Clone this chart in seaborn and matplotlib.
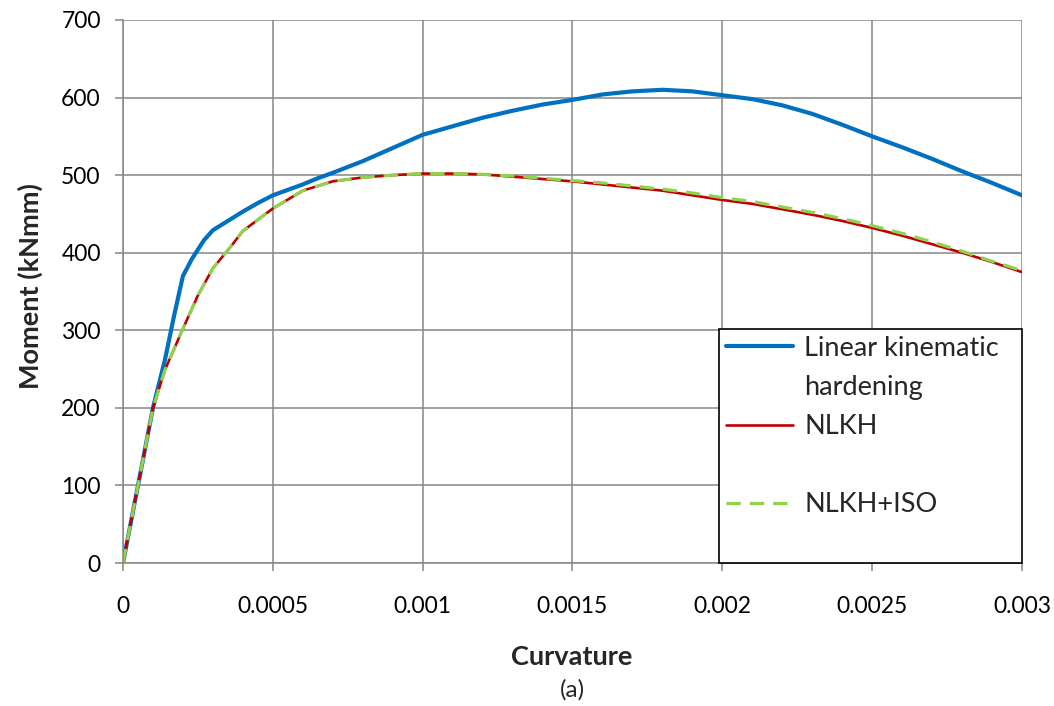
import numpy as np
import pandas as pd
import matplotlib
matplotlib.use("Agg")
import matplotlib.pyplot as plt
from matplotlib.lines import Line2D
import seaborn as sns

# ================= DATA =================
lkh_curv = [0, 0.0001, 0.00014, 0.00017, 0.0002, 0.00023, 0.00027, 0.0003,
            0.00035, 0.0004, 0.00045, 0.0005, 0.0006, 0.00065, 0.0007, 0.0008, 0.0009,
            0.001, 0.0011, 0.0012, 0.0013, 0.0014, 0.0015, 0.0016, 0.0017, 0.0018,
            0.0019, 0.002, 0.0021, 0.0022, 0.0023, 0.0024, 0.0025, 0.0026, 0.0027,
            0.0028, 0.0029, 0.003]
lkh_moment = [0, 200, 262, 318, 370, 392, 416, 429,
              441, 453, 464, 474, 488, 496, 503, 518, 535,
              552, 563, 574, 583, 591, 597, 604, 608, 610,
              608, 603, 598, 590, 579, 565, 550, 536, 521,
              505, 490, 474]

nl_curv = [0, 0.0001, 0.00014, 0.0002, 0.00025, 0.0003, 0.00036, 0.0004, 0.0005,
           0.0006, 0.0007, 0.0008, 0.0009, 0.001, 0.0011, 0.0012, 0.0013, 0.0014,
           0.0015, 0.0016, 0.0017, 0.0018, 0.0019, 0.002, 0.0021, 0.0022, 0.0023,
           0.0024, 0.0025, 0.0026, 0.0027, 0.0028, 0.0029, 0.003]
nlkh_moment = [0, 200, 249, 302, 345, 380, 408, 428, 457,
               480, 492, 497, 500, 502, 502, 501, 498, 495,
               492, 488, 484, 480, 474, 468, 463, 456, 449,
               441, 432, 422, 411, 400, 388, 375]
nlkh_iso_moment = [0, 200, 249, 302, 345, 380, 408, 428, 457,
                   480, 492, 497, 500, 502, 502, 501, 499, 496,
                   493, 490, 486, 482, 477, 471, 466, 459, 452,
                   444, 435, 425, 414, 402, 389, 377]

x_ticks = [0, 0.0005, 0.001, 0.0015, 0.002, 0.0025, 0.003]
x_tick_labels = ["0", "0.0005", "0.001", "0.0015", "0.002", "0.0025", "0.003"]
y_ticks = [0, 100, 200, 300, 400, 500, 600, 700]

# ================= STYLE =================
sns.set_style("white")
plt.rcParams["font.family"] = ["Lato", "DejaVu Sans"]

BLUE = "#0070C0"
RED = "#C00000"
GREEN = "#92D050"
GRID = "#868686"
DASH = (0, (4.5, 2.8))

fig = plt.figure(figsize=(10.54, 7.06), dpi=100)
ax = fig.add_axes([0.1167, 0.2025, 0.8529, 0.7692])

# ================= PLOT =================
sns.lineplot(x=lkh_curv, y=lkh_moment, ax=ax, color=BLUE, linewidth=3.0)
sns.lineplot(x=nl_curv, y=nlkh_moment, ax=ax, color=RED, linewidth=1.9)
sns.lineplot(x=nl_curv, y=nlkh_iso_moment, ax=ax, color=GREEN, linewidth=2.3,
             linestyle=DASH)

ax.set_xlim(0, 0.003)
ax.set_ylim(0, 700)
ax.set_xticks(x_ticks)
ax.set_xticklabels(x_tick_labels)
ax.set_yticks(y_ticks)
ax.grid(True, color=GRID, linewidth=1.1)
ax.set_axisbelow(True)
for side in ["top", "right"]:
    ax.spines[side].set_visible(False)
for side in ["left", "bottom"]:
    ax.spines[side].set_color(GRID)
    ax.spines[side].set_linewidth(1.1)
ax.tick_params(axis="both", direction="out", length=6, width=1.1, color=GRID,
               labelsize=16.5, labelcolor="black")
ax.tick_params(axis="x", pad=18, bottom=True)
ax.tick_params(axis="y", pad=10, left=True)
ax.set_xlabel("")
ax.set_ylabel("")

fig.text(30 / 1054, 1 - 286 / 706, "Moment (kNmm)", rotation=90, ha="center",
         va="center", fontsize=19.5, fontweight="bold")
fig.text(572 / 1054, 1 - 657 / 706, "Curvature", ha="center", va="center",
         fontsize=19.5, fontweight="bold")
fig.text(572 / 1054, 1 - 690 / 706, "(a)", ha="center", va="center", fontsize=17.5)

# ================= LEGEND =================
blank = Line2D([], [], color="none")
handles = [Line2D([], [], color=BLUE, linewidth=3.0), blank,
           Line2D([], [], color=RED, linewidth=1.9), blank,
           Line2D([], [], color=GREEN, linewidth=2.3, linestyle=DASH), blank]
labels = ["Linear kinematic", "hardening", "NLKH", "", "NLKH+ISO", ""]
leg = ax.legend(handles, labels, loc="lower left", bbox_to_anchor=(0.663, 0, 0.337, 0.4),
                mode="expand", borderaxespad=0, frameon=True, fancybox=False,
                fontsize=19.5, handlelength=2.5, handletextpad=0.4,
                labelspacing=0.52, borderpad=0.25)
leg.get_frame().set_edgecolor("black")
leg.get_frame().set_linewidth(1.2)
leg.get_frame().set_alpha(1)

fig.savefig("out.png", dpi=100)
